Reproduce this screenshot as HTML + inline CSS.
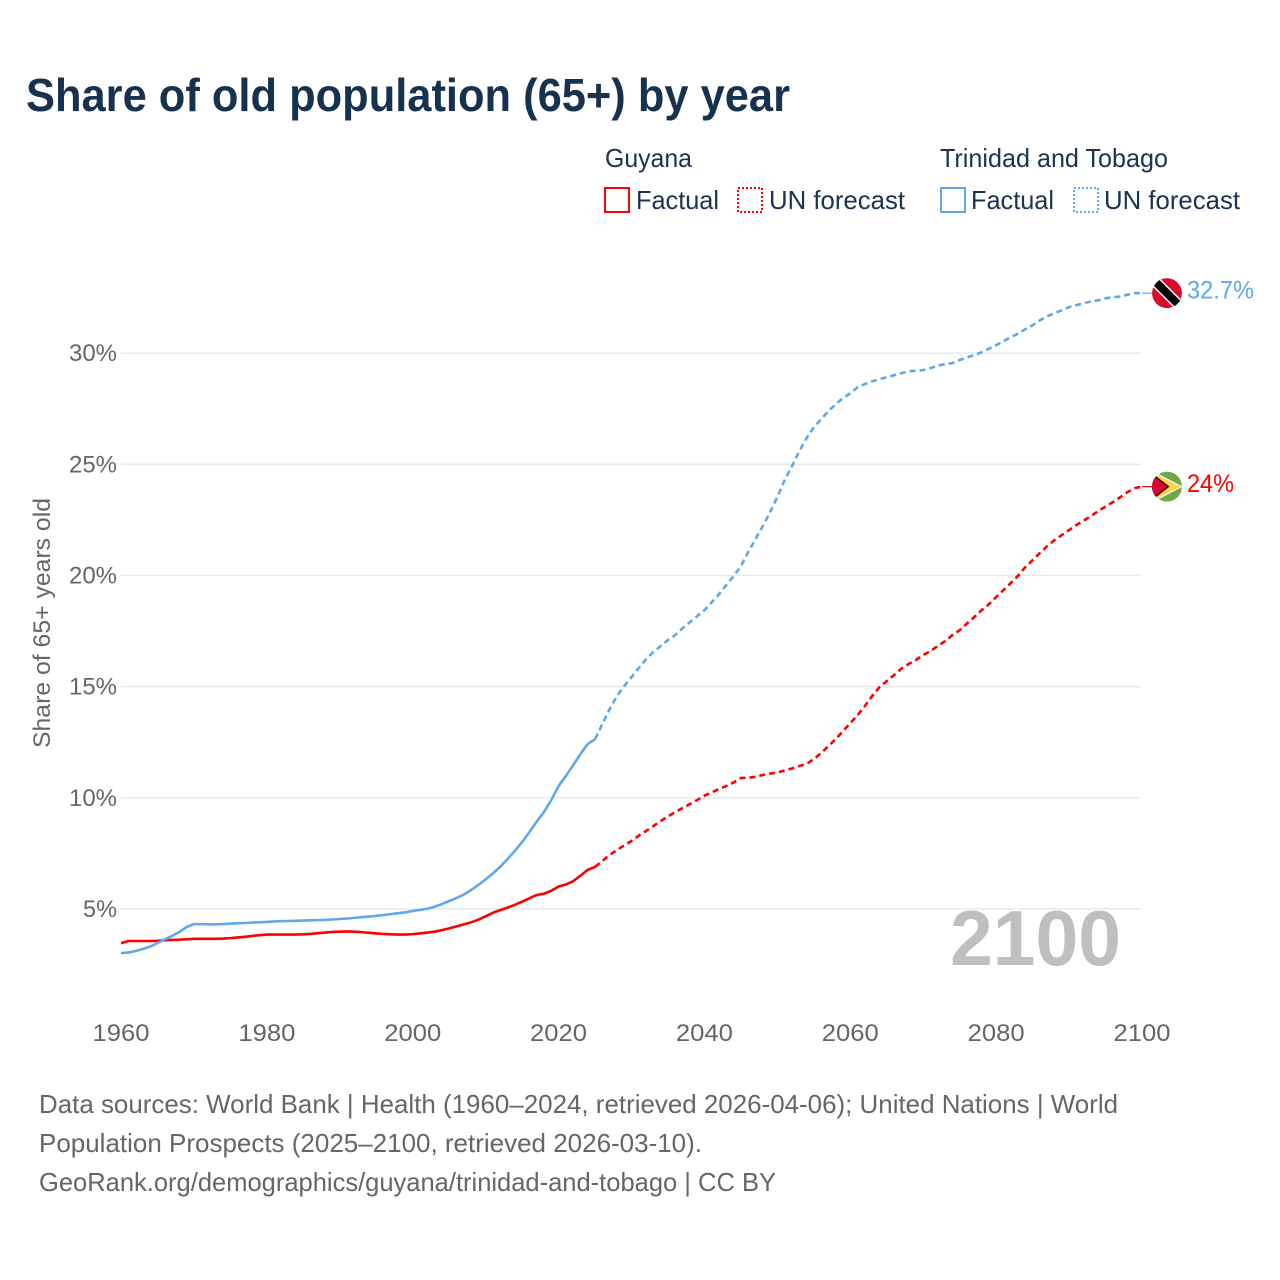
<!DOCTYPE html>
<html lang="en">
<head>
<meta charset="utf-8">
<title>Share of old population (65+) by year</title>
<style>
html,body{margin:0;padding:0;background:#fff;}
svg{display:block;font-family:"Liberation Sans",sans-serif;}
</style>
</head>
<body>
<svg id="chart" xmlns="http://www.w3.org/2000/svg" width="1280" height="1280" viewBox="0 0 1280 1280">
  <defs>
    <clipPath id="flag-clip-tt"><circle id="clip-tt" cx="1167" cy="292" r="15"/></clipPath>
    <clipPath id="flag-clip-gy"><circle id="clip-gy" cx="1167" cy="486" r="15"/></clipPath>
  </defs>
  <rect width="1280" height="1280" fill="#fff"/>
  <text x="26" y="111" font-size="46" font-weight="700" fill="#17324f" textLength="764" lengthAdjust="spacingAndGlyphs">Share of old population (65+) by year</text>

  <g font-size="26" fill="#1b3252">
    <text x="605" y="167" textLength="87" lengthAdjust="spacingAndGlyphs">Guyana</text>
    <rect x="605" y="188" width="24" height="24" fill="none" stroke="#ff0000" stroke-width="2"/>
    <text x="636" y="209" textLength="83" lengthAdjust="spacingAndGlyphs">Factual</text>
    <rect x="738" y="188" width="24" height="24" fill="none" stroke="#ff0000" stroke-width="2" stroke-dasharray="2 2"/>
    <text x="769" y="209" textLength="136" lengthAdjust="spacingAndGlyphs">UN forecast</text>
    <text x="940" y="167" textLength="228" lengthAdjust="spacingAndGlyphs">Trinidad and Tobago</text>
    <rect x="941" y="188" width="24" height="24" fill="none" stroke="#5fa8ec" stroke-width="2"/>
    <text x="971" y="209" textLength="83" lengthAdjust="spacingAndGlyphs">Factual</text>
    <rect x="1074" y="188" width="24" height="24" fill="none" stroke="#5fa8ec" stroke-width="2" stroke-dasharray="2 2"/>
    <text x="1104" y="209" textLength="136" lengthAdjust="spacingAndGlyphs">UN forecast</text>
  </g>

  <g id="grid"></g>
  <g id="y-ticks" font-size="24" fill="#666"></g>
  <g id="x-ticks" font-size="24" fill="#666"></g>
  <text transform="translate(50,623) rotate(-90)" text-anchor="middle" font-size="24" fill="#666" textLength="250" lengthAdjust="spacingAndGlyphs">Share of 65+ years old</text>

  <text x="950" y="965" font-size="78" font-weight="700" fill="#bfbfbf" textLength="171" lengthAdjust="spacingAndGlyphs">2100</text>

  <g id="series"></g>

  <g id="flag-tt" clip-path="url(#flag-clip-tt)">
    <circle cx="1167" cy="292" r="15" fill="#da0a2c"/>
    <line x1="1147" y1="272" x2="1187" y2="312" stroke="#fff" stroke-width="11"/>
    <line x1="1147" y1="272" x2="1187" y2="312" stroke="#000" stroke-width="8"/>
  </g>
  <g id="flag-gy" clip-path="url(#flag-clip-gy)">
    <circle cx="1167" cy="486" r="15" fill="#6fa84a"/>
    <polygon points="1152,470 1183,486 1152,502" fill="#f2f2f2"/>
    <polygon points="1152,472 1180.5,486 1152,500" fill="#ffd23f"/>
    <polygon points="1152,472.5 1169.5,486 1152,499.5" fill="#111"/>
    <polygon points="1152,474.5 1167.5,486 1152,497.5" fill="#d9042f"/>
  </g>
  <text id="label-tt" x="1187" y="298" font-size="25" fill="#5fa8ec" textLength="67" lengthAdjust="spacingAndGlyphs"></text>
  <text id="label-gy" x="1187" y="492" font-size="25" fill="#ff0000" textLength="47" lengthAdjust="spacingAndGlyphs"></text>

  <g font-size="26" fill="#666">
    <text x="39" y="1113" textLength="1079" lengthAdjust="spacingAndGlyphs">Data sources: World Bank | Health (1960–2024, retrieved 2026-04-06); United Nations | World</text>
    <text x="39" y="1152" textLength="663" lengthAdjust="spacingAndGlyphs">Population Prospects (2025–2100, retrieved 2026-03-10).</text>
    <text x="39" y="1191" textLength="737" lengthAdjust="spacingAndGlyphs">GeoRank.org/demographics/guyana/trinidad-and-tobago | CC BY</text>
  </g>
</svg>
<script>
const firstYear = 1960;
const lastFactualYear = 2025;
const yTickValues = [5, 10, 15, 20, 25, 30];
const xTickYears = [1960, 1980, 2000, 2020, 2040, 2060, 2080, 2100];
const guyanaValues = [
3.46,3.56,3.56,3.56,3.56,3.57,3.59,3.61,3.62,3.64,
3.66,3.66,3.66,3.66,3.67,3.69,3.72,3.75,3.79,3.82,
3.85,3.85,3.85,3.85,3.85,3.86,3.88,3.91,3.94,3.97,
3.98,3.99,3.98,3.96,3.93,3.90,3.88,3.86,3.85,3.85,
3.87,3.90,3.94,3.98,4.05,4.13,4.22,4.31,4.40,4.52,
4.67,4.83,4.95,5.06,5.19,5.33,5.48,5.63,5.69,5.82,
6.01,6.10,6.25,6.50,6.76,6.89,
7.16,7.43,7.65,7.86,8.06,8.30,8.51,8.73,8.96,9.16,9.36,9.54,9.72,9.90,
10.10,10.24,10.40,10.53,10.69,10.89,10.91,10.94,11.03,11.09,
11.14,11.23,11.32,11.43,11.52,11.74,12.01,12.33,12.64,13.00,
13.36,13.72,14.13,14.58,14.98,15.25,15.52,15.81,16.02,16.20,
16.42,16.60,16.83,17.05,17.32,17.54,17.84,18.13,18.44,18.71,
19.03,19.34,19.66,19.99,20.38,20.69,21.01,21.32,21.59,21.82,
22.04,22.27,22.47,22.67,22.90,23.10,23.30,23.52,23.75,23.93,24.0
];
const trinidadValues = [
3.02,3.04,3.11,3.20,3.31,3.47,3.63,3.79,3.97,4.19,
4.32,4.32,4.31,4.31,4.32,4.34,4.36,4.37,4.39,4.40,
4.42,4.44,4.45,4.46,4.47,4.48,4.49,4.50,4.51,4.53,
4.55,4.57,4.60,4.63,4.66,4.69,4.73,4.77,4.81,4.85,
4.91,4.96,5.01,5.10,5.22,5.36,5.49,5.65,5.85,6.08,
6.33,6.60,6.90,7.25,7.61,8.01,8.46,8.93,9.36,9.90,
10.53,10.98,11.47,11.97,12.42,12.64,
13.32,13.99,14.58,15.03,15.43,15.84,16.24,16.56,16.83,17.10,17.32,17.63,17.90,18.17,
18.44,18.80,19.16,19.57,19.97,20.42,21.05,21.64,22.22,22.85,
23.53,24.29,24.92,25.59,26.18,26.67,27.03,27.39,27.71,27.98,
28.20,28.47,28.61,28.74,28.83,28.92,29.01,29.10,29.19,29.21,
29.24,29.33,29.44,29.51,29.55,29.69,29.82,29.91,30.04,30.20,
30.36,30.54,30.72,30.88,31.08,31.26,31.48,31.66,31.80,31.93,
32.07,32.16,32.25,32.32,32.38,32.47,32.52,32.54,32.63,32.70,32.70
];
const guyanaLabel = "24%";
const trinidadLabel = "32.7%";

const NS = "http://www.w3.org/2000/svg";
function xScale(year) { return 121 + (year - 1960) * (1142 - 121) / 140; }
function yScale(v) { return 909 - (v - 5) * (909 - 353.2) / 25; }
function mk(tag, parent, attrs) {
  const el = document.createElementNS(NS, tag);
  for (const k in attrs) el.setAttribute(k, attrs[k]);
  parent.appendChild(el);
  return el;
}
const gridG = document.getElementById("grid");
const yG = document.getElementById("y-ticks");
const xG = document.getElementById("x-ticks");
const seriesG = document.getElementById("series");

yTickValues.forEach(function (v) {
  const line = mk("line", gridG, { x1: 121, x2: 1141, y1: yScale(v), y2: yScale(v), stroke: "#e9e9e9", "stroke-width": 1.5 });
  
  
  const label = String(v) + "%";
  const t = mk("text", yG, { x: 117, y: yScale(v) + 8, "text-anchor": "end", textLength: label.length === 2 ? 34 : 48, lengthAdjust: "spacingAndGlyphs" });
  t.textContent = label;
  
  
});
xTickYears.forEach(function (yr) {
  const t = mk("text", xG, { x: xScale(yr), y: 1041, "text-anchor": "middle", textLength: 57, lengthAdjust: "spacingAndGlyphs" });
  t.textContent = String(yr);
  
  
});

function pathFor(values, from, to) {
  let d = "";
  for (let yr = from; yr <= to; yr++) {
    const v = values[yr - firstYear];
    if (v === undefined) continue;
    d += (d ? "L" : "M") + xScale(yr).toFixed(2) + " " + yScale(v).toFixed(2);
  }
  return d;
}
function drawSeries(values, color) {
  const end = firstYear + values.length - 1;
  const solid = mk("path", seriesG, { d: pathFor(values, firstYear, lastFactualYear), fill: "none", stroke: color, "stroke-width": 2.6, "stroke-linejoin": "round" });
  
  
  const dash = mk("path", seriesG, { d: pathFor(values, lastFactualYear, end), fill: "none", stroke: color, "stroke-width": 2.6, "stroke-dasharray": "6 4", "stroke-linejoin": "round" });
  
  
  const y = yScale(values[values.length - 1]);
  const lead = mk("line", seriesG, { x1: xScale(end), x2: 1152, y1: y, y2: y, stroke: color, "stroke-width": 1.2 });
  
  
  return y;
}
const yGy = drawSeries(guyanaValues, "#ff0000");
const yTt = drawSeries(trinidadValues, "#5fa8ec");

function placeEnd(groupId, labelId, y, baseY, text) {
  document.getElementById(groupId).setAttribute("transform", "translate(0," + (y - baseY).toFixed(2) + ")");
  const l = document.getElementById(labelId);
  l.setAttribute("y", (y + 5.5).toFixed(2));
  l.textContent = text;
}
placeEnd("flag-tt", "label-tt", yTt, 292, trinidadLabel);
placeEnd("flag-gy", "label-gy", yGy, 486, guyanaLabel);
</script>
</body>
</html>
